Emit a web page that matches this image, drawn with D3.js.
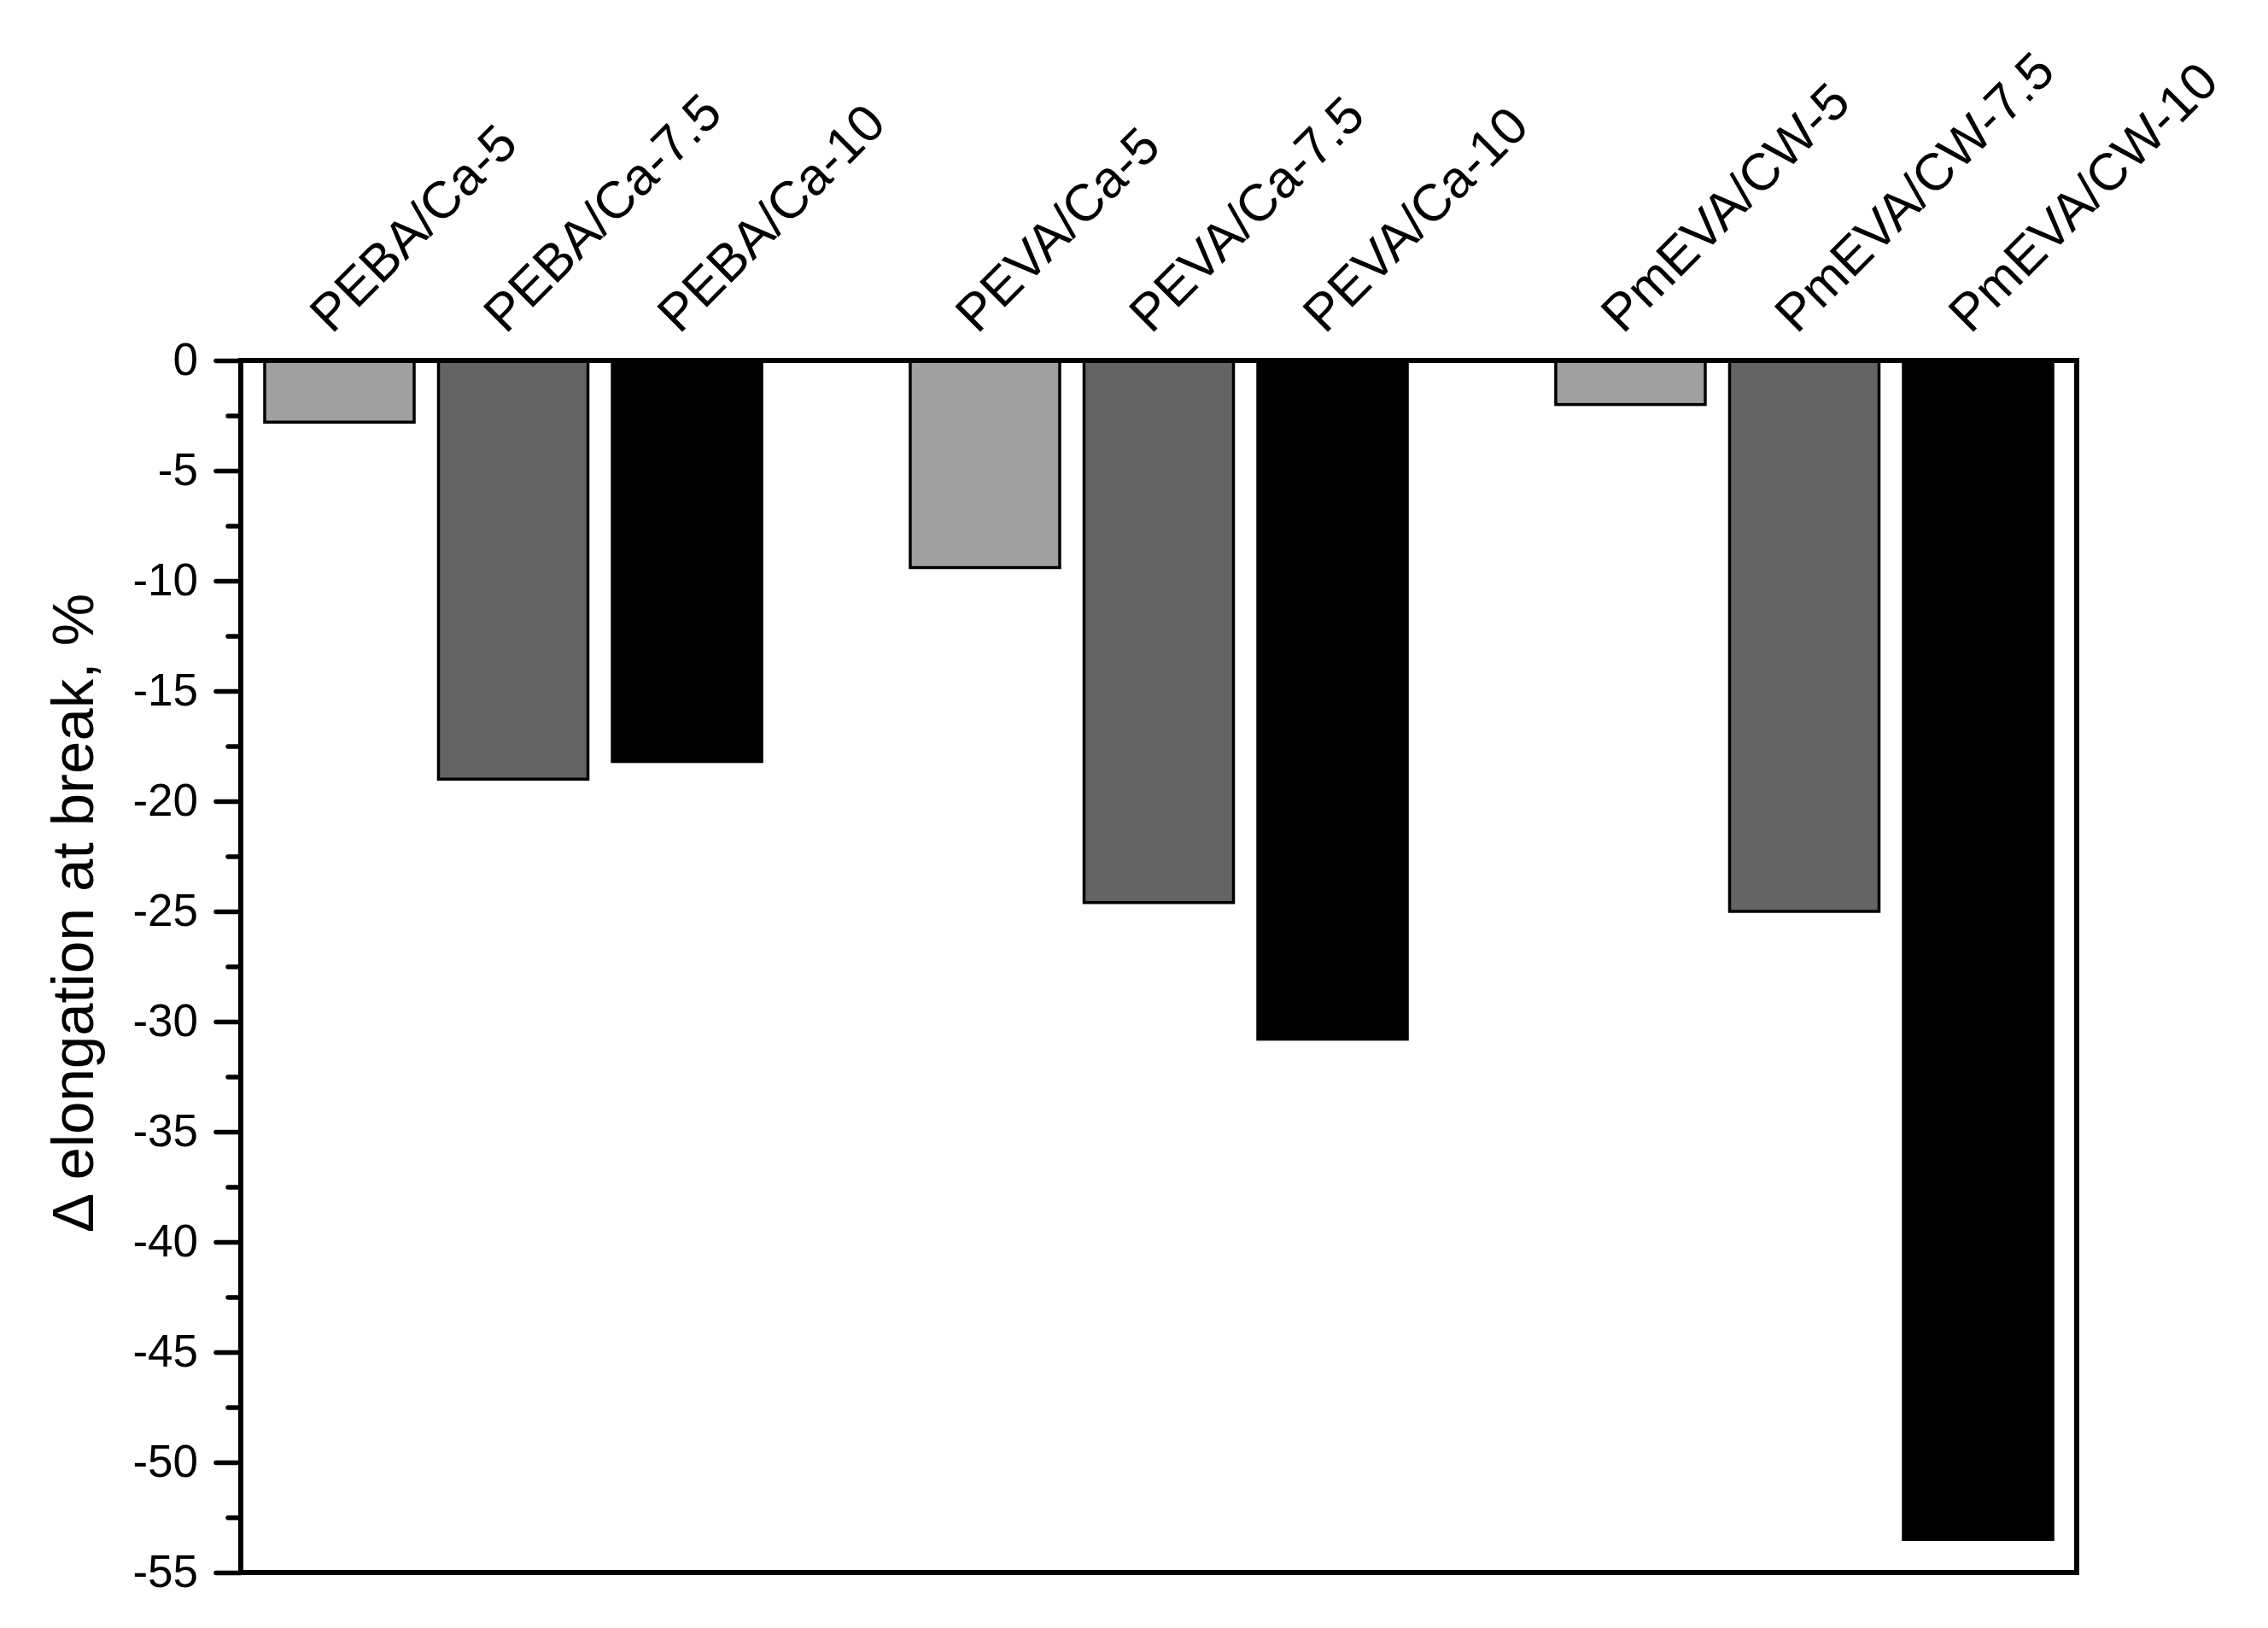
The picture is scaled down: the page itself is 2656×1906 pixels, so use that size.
<!DOCTYPE html>
<html>
<head>
<meta charset="utf-8">
<script src="https://cdn.jsdelivr.net/npm/d3@7/dist/d3.min.js"></script>
<style>
  body { margin: 0; background: #fff; }
  text { font-family: "Liberation Sans", Arial, sans-serif; fill: #000; }
</style>
</head>
<body>
<div id="chart"></div>
<script>
var margin = {top: 422, right: 224, bottom: 65, left: 282},
    width = 2656 - margin.left - margin.right,
    height = 1906 - margin.top - margin.bottom;

// data
var groups = ["PEBA/Ca", "PEVA/Ca", "PmEVA/CW"];
var loadings = ["5", "7.5", "10"];
var elongationChange = [
  [-2.8, -19.0, -18.2],
  [-9.4, -24.6, -30.8],
  [-2.0, -25.0, -53.5]
];
var barColors = ["#a0a0a0", "#646464", "#000000"];
var majorTicks = [0, -5, -10, -15, -20, -25, -30, -35, -40, -45, -50, -55];
var minorTicks = [-2.5, -7.5, -12.5, -17.5, -22.5, -27.5, -32.5, -37.5, -42.5, -47.5, -52.5];

var bars = [];
groups.forEach(function(g, gi) {
  loadings.forEach(function(l, li) {
    bars.push({group: g, loading: l, name: g + "-" + l, value: elongationChange[gi][li]});
  });
});

var x0 = d3.scaleBand()
    .domain(groups)
    .range([0, width])
    .paddingInner(0.23)
    .paddingOuter(0.037);

var x1 = d3.scaleBand()
    .domain(loadings)
    .range([0, x0.bandwidth()])
    .paddingInner(0.14)
    .paddingOuter(0);

var y = d3.scaleLinear()
    .domain([0, -55])
    .range([0, height]);

var color = d3.scaleOrdinal().domain(loadings).range(barColors);

var svg = d3.select("#chart").append("svg")
    .attr("width", 2656)
    .attr("height", 1906)
  .append("g")
    .attr("transform", "translate(" + margin.left + "," + margin.top + ")");

// bars
svg.selectAll(".bar")
    .data(bars)
    .enter().append("rect")
    .attr("class", "bar")
    .attr("x", function(d) { return x0(d.group) + x1(d.loading); })
    .attr("y", y(0))
    .attr("width", x1.bandwidth())
    .attr("height", function(d) { return y(d.value) - y(0); })
    .style("fill", function(d) { return color(d.loading); })
    .style("stroke", "#000")
    .style("stroke-width", 3.5);

// minor ticks
var minorAxis = svg.append("g")
    .call(d3.axisLeft(y).tickValues(minorTicks).tickSize(15).tickFormat(""));
minorAxis.select(".domain").remove();
minorAxis.selectAll("line").style("stroke-width", 5.5).style("stroke-linecap", "round");

// major ticks
var yAxis = svg.append("g")
    .call(d3.axisLeft(y).tickValues(majorTicks).tickSize(29).tickPadding(21)
      .tickFormat(function(d) { return d; }));
yAxis.select(".domain").remove();
yAxis.selectAll("line").style("stroke-width", 5.5).style("stroke-linecap", "round");
yAxis.selectAll("text")
    .style("font-size", "53px")
    .style("font-family", "'Liberation Sans', Arial, sans-serif")
    .attr("fill", "#000");

// frame
svg.append("rect")
    .attr("x", 0)
    .attr("y", 0)
    .attr("width", width)
    .attr("height", height)
    .style("fill", "none")
    .style("stroke", "#000")
    .style("stroke-width", 6);

// rotated sample labels above the bars
svg.selectAll(".label")
    .data(bars)
    .enter().append("text")
    .attr("class", "label")
    .attr("transform", function(d) {
      var cx = x0(d.group) + x1(d.loading) + x1.bandwidth() / 2 - 9;
      return "translate(" + cx + "," + (-30) + ") rotate(-45)";
    })
    .style("font-size", "61px")
    .style("text-anchor", "start")
    .text(function(d) { return d.name; });

// y title
svg.append("text")
    .attr("transform", "rotate(-90)")
    .attr("x", -(1069 - margin.top))
    .attr("y", 85 - margin.left + 24)
    .style("text-anchor", "middle")
    .style("font-size", "69px")
    .text("\u0394 elongation at break, %");
</script>
</body>
</html>
